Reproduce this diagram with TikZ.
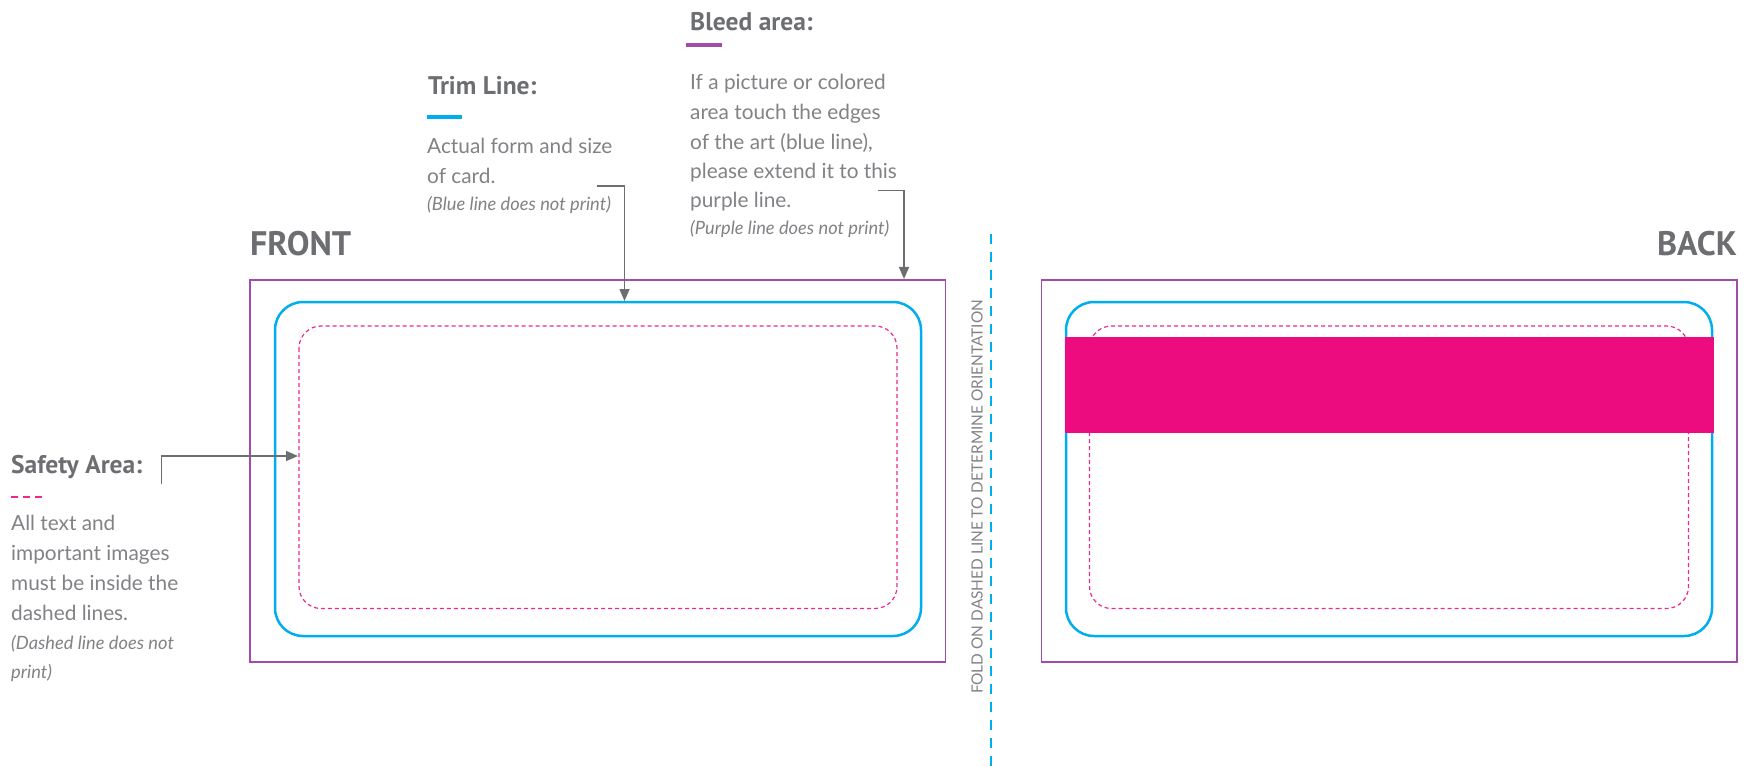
\documentclass[tikz,border=0pt]{standalone}
\usepackage{fontspec}
\setmainfont{Lato}
\newfontfamily\headfont{PT Sans}
\usetikzlibrary{arrows.meta}
\definecolor{headgray}{HTML}{6D6E71}
\definecolor{bodygray}{HTML}{808285}
\definecolor{trimblue}{HTML}{00AEEF}
\definecolor{bleedpurple}{HTML}{A04CA8}
\definecolor{safepink}{HTML}{EC2A8D}
\definecolor{bandmagenta}{HTML}{EC0C7F}
\tikzset{
  heading/.style={anchor=base west, inner sep=0pt, text=headgray, font=\headfont\bfseries\fontsize{25.5}{28}\selectfont},
  bigheading/.style={inner sep=0pt, text=headgray, font=\headfont\bfseries\fontsize{34}{36}\selectfont},
  bodyline/.style={anchor=base west, inner sep=0pt, text=bodygray, font=\fontsize{20.8}{24}\selectfont},
  noteline/.style={anchor=base west, inner sep=0pt, text=bodygray, font=\itshape\fontsize{18.3}{20}\selectfont},
  bleedbox/.style={draw=bleedpurple, line width=1.5pt},
  trimbox/.style={draw=trimblue, line width=2.5pt, rounded corners=28pt},
  safebox/.style={draw=safepink, line width=1.2pt, dash pattern=on 4pt off 3pt, rounded corners=22pt},
  pointer/.style={draw=headgray, line width=1.6pt, -{Triangle[length=12pt,width=10pt]}},
}
\begin{document}
\begin{tikzpicture}[x=1pt,y=-1pt]
\useasboundingbox (0,0) rectangle (1747,767);

% ---------- FRONT ----------
\draw[bleedbox] (250,280) rectangle (945.5,662);
\draw[trimbox] (275,302) rectangle (921,636);
\draw[safebox] (299,326) rectangle (897,608.5);
\node[bigheading, anchor=base west] (front) at (250,256) {FRONT};

% ---------- BACK ----------
\draw[bleedbox] (1041.5,280) rectangle (1737,662);
\draw[trimbox] (1066,302) rectangle (1712,636);
\draw[safebox] (1089.5,326) rectangle (1688.5,608.5);
\fill[bandmagenta] (1065,337) rectangle (1713.5,432.5);
\node[bigheading, anchor=base east] (back) at (1737,256) {BACK};

% ---------- fold line ----------
\coordinate (foldtop) at (991,234);
\coordinate (foldbot) at (991,767);
\draw[trimblue, line width=2.5pt, dash pattern=on 10pt off 8pt] (foldtop) -- (foldbot);
\node[rotate=90, inner sep=0pt, text=bodygray, font=\fontsize{15.4}{17}\selectfont] (foldtext) at (977,497) {FOLD ON DASHED LINE TO DETERMINE ORIENTATION};

% ---------- Trim Line ----------
\node[heading] (trimh) at (428,94.5) {Trim Line:};
\draw[trimblue, line width=4pt] (427,117) -- (462,117);
\node[bodyline] (trim1) at (427,154) {Actual form and size};
\node[bodyline] (trim2) at (427,184) {of card.};
\node[noteline] (trim3) at (427,211) {(Blue line does not print)};
\coordinate (trimhook) at (596.5,186);
\coordinate (trimtarget) at (624.5,301);
\draw[pointer] (trimhook) -| (trimtarget);

% ---------- Bleed area ----------
\node[heading] (bleedh) at (690,31) {Bleed area:};
\draw[bleedpurple, line width=4pt] (686,45.5) -- (722,45.5);
\node[bodyline] (bleed1) at (690,90) {If a picture or colored};
\node[bodyline] (bleed2) at (690,120) {area touch the edges};
\node[bodyline] (bleed3) at (690,150) {of the art (blue line),};
\node[bodyline] (bleed4) at (690,179) {please extend it to this};
\node[bodyline] (bleed5) at (690,208) {purple line.};
\node[noteline] (bleed6) at (690,235) {(Purple line does not print)};
\coordinate (bleedhook) at (877.5,190.5);
\coordinate (bleedtarget) at (904,279);
\draw[pointer] (bleedhook) -| (bleedtarget);

% ---------- Safety Area ----------
\node[heading] (safeh) at (11,473) {Safety Area:};
\draw[safepink, line width=1.5pt, dash pattern=on 7pt off 5pt] (11,497) -- (46,497);
\node[bodyline] (safe1) at (11,530) {All text and};
\node[bodyline] (safe2) at (11,560) {important images};
\node[bodyline] (safe3) at (11,590) {must be inside the};
\node[bodyline] (safe4) at (11,620) {dashed lines.};
\node[noteline] (safe5) at (11,649) {(Dashed line does not};
\node[noteline] (safe6) at (11,678) {print)};
\coordinate (safehook) at (161.5,484);
\coordinate (safetarget) at (298,456);
\draw[pointer] (safehook) |- (safetarget);
\end{tikzpicture}
\end{document}
